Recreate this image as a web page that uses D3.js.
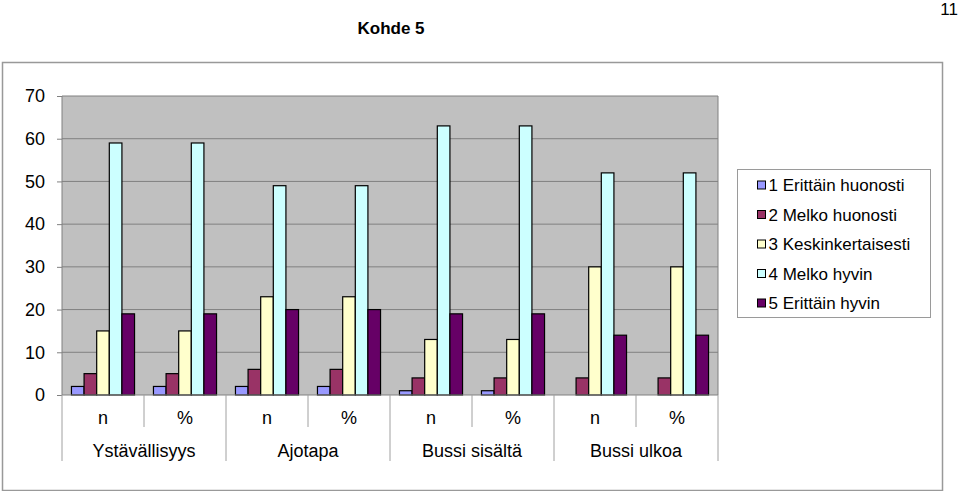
<!DOCTYPE html>
<html>
<head>
<meta charset="utf-8">
<script src="https://cdn.jsdelivr.net/npm/d3@7"></script>
<style>
  body { margin: 0; background: #fff; }
  text { font-family: "Liberation Sans", Arial, sans-serif; fill: #000; }
</style>
</head>
<body>
<div id="chart"></div>
<script>
// data
var groups = ["Ystävällisyys", "Ajotapa", "Bussi sisältä", "Bussi ulkoa"]
var subLabels = ["n", "%"]
var seriesNames = ["1 Erittäin huonosti", "2 Melko huonosti", "3 Keskinkertaisesti", "4 Melko hyvin", "5 Erittäin hyvin"]
var colors = ["#9999ff", "#993366", "#ffffcc", "#ccffff", "#660066"]
// one row per category (n, % for each group), one value per series
var ystavallisyys = [2, 5, 15, 59, 19]
var ajotapa = [2, 6, 23, 49, 20]
var bussiSisalta = [1, 4, 13, 63, 19]
var bussiUlkoa = [0, 4, 30, 52, 14]
var yTicks = [0, 10, 20, 30, 40, 50, 60, 70]

var groupValues = [ystavallisyys, ajotapa, bussiSisalta, bussiUlkoa]
var rows = []
groups.forEach((g, gi) => {
  subLabels.forEach((s) => {
    rows.push({ id: g + "|" + s, group: g, sub: s, values: groupValues[gi] })
  })
})

var width = 960, height = 491
var plot = { left: 62, right: 718, top: 96, bottom: 395 }

var svg = d3.select("#chart").append("svg")
    .attr("width", width)
    .attr("height", height)

// title and page number
svg.append("text")
    .text("Kohde 5")
    .attr("x", 391)
    .attr("y", 34)
    .attr("text-anchor", "middle")
    .style("font-family", "'Liberation Sans Narrow', 'Arial Narrow', sans-serif")
    .style("font-weight", "bold")
    .style("font-size", "17px")
svg.append("text")
    .text("11")
    .attr("x", 958)
    .attr("y", 15)
    .attr("text-anchor", "end")
    .style("font-family", "'Liberation Sans Narrow', 'Arial Narrow', sans-serif")
    .style("font-size", "17px")

// chart frame
svg.append("rect")
    .attr("x", 2.5).attr("y", 62.5)
    .attr("width", 940).attr("height", 428)
    .attr("fill", "#fff")
    .attr("stroke", "#999")
    .attr("stroke-width", 1.5)

var x0 = d3.scaleBand().domain(rows.map(d => d.id)).range([plot.left, plot.right])
var step = x0.bandwidth() / 6.5
var x1 = d3.scaleBand().domain(d3.range(5)).range([step * 0.75, step * 5.75])
var y = d3.scaleLinear().domain([0, 70]).range([plot.bottom, plot.top])

// plot area
svg.append("rect")
    .attr("x", plot.left).attr("y", plot.top)
    .attr("width", plot.right - plot.left).attr("height", plot.bottom - plot.top)
    .attr("fill", "#c0c0c0")

svg.append("g")
    .selectAll("line")
    .data(yTicks.filter(d => d > 0))
    .join("line")
    .attr("x1", plot.left).attr("x2", plot.right)
    .attr("y1", d => y(d)).attr("y2", d => y(d))
    .attr("stroke", "#808080")
    .attr("stroke-width", 1)

svg.append("line")
    .attr("x1", plot.right).attr("x2", plot.right)
    .attr("y1", plot.top).attr("y2", plot.bottom)
    .attr("stroke", "#808080")

// y axis
var yAxis = d3.axisLeft(y).tickValues(yTicks).tickSize(5).tickPadding(12)
svg.append("g")
    .attr("transform", "translate(" + plot.left + ",0)")
    .call(yAxis)
    .call(g => g.select(".domain").remove())
    .call(g => g.selectAll(".tick line").attr("stroke", "#808080"))
    .call(g => g.selectAll(".tick text")
        .style("font-family", "'Liberation Sans', Arial, sans-serif")
        .style("font-size", "18px")
        .attr("fill", "#000"))

// bars
var cat = svg.append("g").selectAll("g")
    .data(rows)
    .join("g")
    .attr("transform", d => "translate(" + x0(d.id) + ",0)")
cat.selectAll("rect")
    .data(d => d.values.map((v, i) => ({ v: v, i: i })))
    .join("rect")
    .attr("x", d => x1(d.i))
    .attr("width", x1.bandwidth())
    .attr("y", d => y(d.v))
    .attr("height", d => y(0) - y(d.v))
    .attr("fill", d => colors[d.i])
    .attr("stroke", d => d.v > 0 ? "#000" : "none")
    .attr("stroke-width", 1.2)

// x axis line
svg.append("line")
    .attr("x1", plot.left).attr("x2", plot.right)
    .attr("y1", plot.bottom).attr("y2", plot.bottom)
    .attr("stroke", "#808080")

// category separators: short between n and %, long between groups
svg.append("g").selectAll("line")
    .data(rows.map((d, i) => i).concat([rows.length]))
    .join("line")
    .attr("x1", i => plot.left + i * x0.step())
    .attr("x2", i => plot.left + i * x0.step())
    .attr("y1", plot.bottom)
    .attr("y2", i => i % 2 === 0 ? 461 : 427)
    .attr("stroke", "#a0a0a0")

svg.append("line")
    .attr("x1", plot.left).attr("x2", plot.left)
    .attr("y1", plot.top).attr("y2", plot.bottom)
    .attr("stroke", "#808080")

svg.append("g").selectAll("text")
    .data(rows)
    .join("text")
    .text(d => d.sub)
    .attr("x", d => x0(d.id) + x0.bandwidth() / 2)
    .attr("y", 424)
    .attr("text-anchor", "middle")
    .style("font-size", "18px")

svg.append("g").selectAll("text")
    .data(groups)
    .join("text")
    .text(d => d)
    .attr("x", (d, i) => x0(d + "|n") + x0.bandwidth())
    .attr("y", 457)
    .attr("text-anchor", "middle")
    .style("font-size", "18px")

// legend
var legend = svg.append("g").attr("transform", "translate(737.5,169.5)")
legend.append("rect")
    .attr("width", 193).attr("height", 148)
    .attr("fill", "#fff")
    .attr("stroke", "#9a9a9a")
var item = legend.selectAll("g.item")
    .data(seriesNames)
    .join("g")
    .attr("class", "item")
    .attr("transform", (d, i) => "translate(0," + (15.5 + i * 29.5) + ")")
item.append("rect")
    .attr("x", 20).attr("y", -4)
    .attr("width", 8).attr("height", 8)
    .attr("fill", (d, i) => colors[i])
    .attr("stroke", "#000")
item.append("text")
    .text(d => d)
    .attr("x", 31)
    .attr("y", 6)
    .style("font-size", "17px")
</script>
</body>
</html>
